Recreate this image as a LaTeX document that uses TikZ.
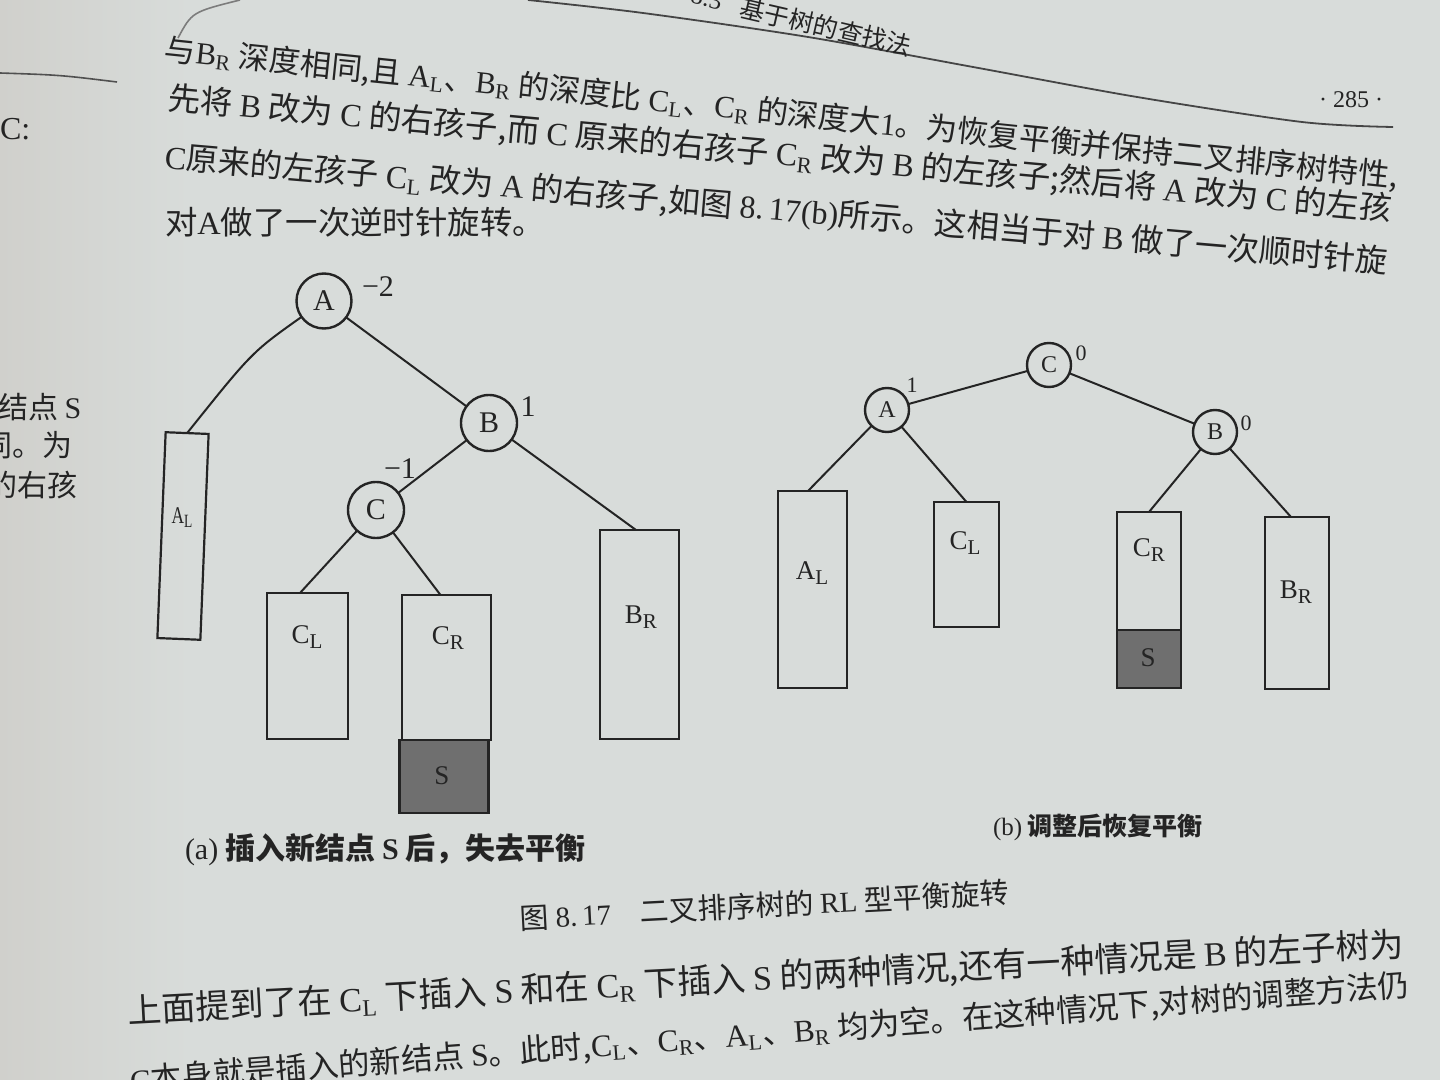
\documentclass[tikz,border=0pt]{standalone}
\usepackage{fontspec}
\usepackage{graphicx}
\setmainfont{Liberation Serif}
\newfontfamily\cjk{Noto Sans CJK SC}
\usetikzlibrary{calc}
\definecolor{paper}{HTML}{D8DCDA}
\definecolor{paperL}{HTML}{D0D0CC}
\definecolor{ink}{HTML}{242424}
\definecolor{shade}{HTML}{6F6F6F}
\newcommand\lt[1]{{\rmfamily #1}}
\newcommand\dsb[1]{\textsubscript{#1}}
\newcommand\bsb[1]{\raisebox{-0.35ex}{\scalebox{0.78}{#1}}}
\tikzset{
  every node/.style={inner sep=0pt, outer sep=0pt, text=ink},
  vtx/.style={circle, draw=ink, line width=1.2pt, minimum size=#1},
  subtree/.style={rectangle, draw=ink, line width=1.1pt},
  edge/.style={draw=ink, line width=1pt},
  lblA/.style={font=\fontsize{15}{15}\selectfont},
  lblB/.style={font=\fontsize{12}{12}\selectfont},
  boxlbl/.style={font=\fontsize{13.5}{13.5}\selectfont},
  bal/.style={font=\fontsize{15}{15}\selectfont},
  balB/.style={font=\fontsize{11}{11}\selectfont},
  body/.style={anchor=west, font=\fontsize{#1}{#1}\selectfont\cjk},
}
\begin{document}
\begin{tikzpicture}[x=0.5pt,y=-0.5pt]
\useasboundingbox (0,0) rectangle (1440,1080);
\clip (0,0) rectangle (1440,1080);
\fill[paper] (0,0) rectangle (1440,1080);
\shade[left color=paperL, right color=paper] (0,0) rectangle (190,1080);

% page furniture
\draw[ink!80, line width=0.8pt] (0,73) .. controls (60,75) .. (117,82);
\draw[ink!60, line width=0.8pt] (178,38) .. controls (192,12) .. (240,0);
\draw[ink!85, line width=0.9pt] plot[smooth] coordinates {(528,0) (643,13) (808,37) (973,67) (1137,97) (1302,122) (1393,127)};
\node[anchor=east, rotate=-13, font=\fontsize{12.5}{12.5}\selectfont] (hdrnum) at (722,2) {8.3};
\node[rotate=-13, font=\fontsize{12.5}{12.5}\selectfont\cjk] (hdr) at (826,27) {基于树的查找法};
\node[font=\fontsize{12}{12}\selectfont] (pnum) at (1351,100) {· 285 ·};

% left page
\node[anchor=west, font=\fontsize{16}{16}\selectfont] (lp1) at (0,129) {C:};
\node[anchor=west, font=\fontsize{15}{15}\selectfont\cjk] (lp2) at (-2,407) {结点 \lt{S}};
\node[anchor=west, font=\fontsize{15}{15}\selectfont\cjk] (lp3) at (-18,445) {同。为};
\node[anchor=west, font=\fontsize{15}{15}\selectfont\cjk] (lp4) at (-12,485) {的右孩};

% body text, top
\node[body=15.5, rotate=-5.9] (t1) at (165,50) {与\lt{B\dsb{R}} 深度相同,且 \lt{A\dsb{L}}、\lt{B\dsb{R}} 的深度比 \lt{C\dsb{L}}、\lt{C\dsb{R}} 的深度大\lt{1}。为恢复平衡并保持二叉排序树特性,};
\node[body=16.2, rotate=-5.2] (t2) at (168,99) {先将 \lt{B} 改为 \lt{C} 的右孩子,而 \lt{C} 原来的右孩子 \lt{C\dsb{R}} 改为 \lt{B} 的左孩子;然后将 \lt{A} 改为 \lt{C} 的左孩};
\node[body=16.1, rotate=-4.9] (t3) at (165,158) {\lt{C}原来的左孩子 \lt{C\dsb{L}} 改为 \lt{A} 的右孩子,如图 \lt{8.\,17(b)}所示。这相当于对 \lt{B} 做了一次顺时针旋};
\node[body=16.2] (t4) at (165,222) {对\lt{A}做了一次逆时针旋转。};

% body text, bottom
\node[body=17, rotate=3] (b1) at (128,1012) {上面提到了在 \lt{C\dsb{L}} 下插入 \lt{S} 和在 \lt{C\dsb{R}} 下插入 \lt{S} 的两种情况,还有一种情况是 \lt{B} 的左子树为};
\node[body=15.7, rotate=4.3] (b2) at (130,1082) {\lt{C}本身就是插入的新结点 \lt{S}。此时,\lt{C\dsb{L}}、\lt{C\dsb{R}}、\lt{A\dsb{L}}、\lt{B\dsb{R}} 均为空。在这种情况下,对树的调整方法仍};

% ---------- figure (a) ----------
\node[vtx=27.5pt, lblA] (aA) at (324,301) {A};
\node[vtx=28pt, lblA] (aB) at (489,423) {B};
\node[vtx=28pt, lblA] (aC) at (376,510) {C};
\node[bal] (aAn) at (378,287) {−2};
\node[bal] (aBn) at (528,407) {1};
\node[bal] (aCn) at (400,469) {−1};

\node[subtree, rotate=-2.3, minimum width=21.5pt, minimum height=103pt] (aAL) at (183,536) {};
\node[font=\fontsize{12}{12}\selectfont] (aALt) at (182,518) {\scalebox{0.72}[1]{A\bsb{L}}};
\node[subtree, minimum width=40.5pt, minimum height=73pt] (aCL) at (307.5,666) {};
\node[boxlbl] (aCLt) at (307,637) {C\bsb{L}};
\node[subtree, minimum width=44.5pt, minimum height=72.5pt] (aCR) at (446.5,667.5) {};
\node[boxlbl] (aCRt) at (448,638) {C\bsb{R}};
\node[subtree, fill=shade, minimum width=44.5pt, minimum height=36.5pt] (aS) at (444,776.5) {};
\node[boxlbl] (aSt) at (442,776) {S};
\node[subtree, minimum width=39.5pt, minimum height=104.5pt] (aBR) at (639.5,634.5) {};
\node[boxlbl] (aBRt) at (641,617) {B\bsb{R}};

\draw[edge] (aA) .. controls (252,352) .. (aAL.north);
\draw[edge] (aA) -- (aB);
\draw[edge] (aB) -- (aC);
\draw[edge] (aB) -- ([xshift=-1.75pt]aBR.north);
\draw[edge] (aC) -- ([xshift=-3.75pt]aCL.north);
\draw[edge] (aC) -- ([xshift=-3pt]aCR.north);

\node[anchor=west, font=\fontsize{15}{15}\selectfont\cjk\bfseries] (capa) at (185,850) {\lt{\mdseries (a)} 插入新结点 \lt{S} 后，失去平衡};

% ---------- figure (b) ----------
\node[vtx=22pt, lblB] (bC) at (1049,365) {C};
\node[vtx=22pt, lblB] (bA) at (887,410) {A};
\node[vtx=22pt, lblB] (bB) at (1215,432) {B};
\node[balB] (bAn) at (912,385) {1};
\node[balB] (bCn) at (1081,353) {0};
\node[balB] (bBn) at (1246,423) {0};

\node[subtree, minimum width=34.5pt, minimum height=98.5pt] (bAL) at (812.5,589.5) {};
\node[boxlbl] (bALt) at (812,573) {A\bsb{L}};
\node[subtree, minimum width=32.5pt, minimum height=62.5pt] (bCL) at (966.5,564.5) {};
\node[boxlbl] (bCLt) at (965,543) {C\bsb{L}};
\node[subtree, minimum width=32pt, minimum height=59pt] (bCR) at (1149,571) {};
\node[boxlbl] (bCRt) at (1149,550) {C\bsb{R}};
\node[subtree, fill=shade, minimum width=32pt, minimum height=29pt] (bS) at (1149,659) {};
\node[boxlbl] (bSt) at (1148,658) {S};
\node[subtree, minimum width=32pt, minimum height=86pt] (bBR) at (1297,603) {};
\node[boxlbl] (bBRt) at (1296,592) {B\bsb{R}};

\draw[edge] (bC) -- (bA);
\draw[edge] (bC) -- (bB);
\draw[edge] (bA) -- ([xshift=-2.25pt]bAL.north);
\draw[edge] (bA) -- (bCL.north);
\draw[edge] (bB) -- (bCR.north);
\draw[edge] (bB) -- ([xshift=-3pt]bBR.north);

\node[anchor=west, font=\fontsize{12.5}{12.5}\selectfont\cjk\bfseries] (capb) at (993,827) {\lt{\mdseries (b)} 调整后恢复平衡};

\node[anchor=west, rotate=3, font=\fontsize{14.5}{14.5}\selectfont\cjk] (capfig) at (520,918) {图 \lt{8.\,17}\quad 二叉排序树的 \lt{RL} 型平衡旋转};
\end{tikzpicture}
\end{document}
